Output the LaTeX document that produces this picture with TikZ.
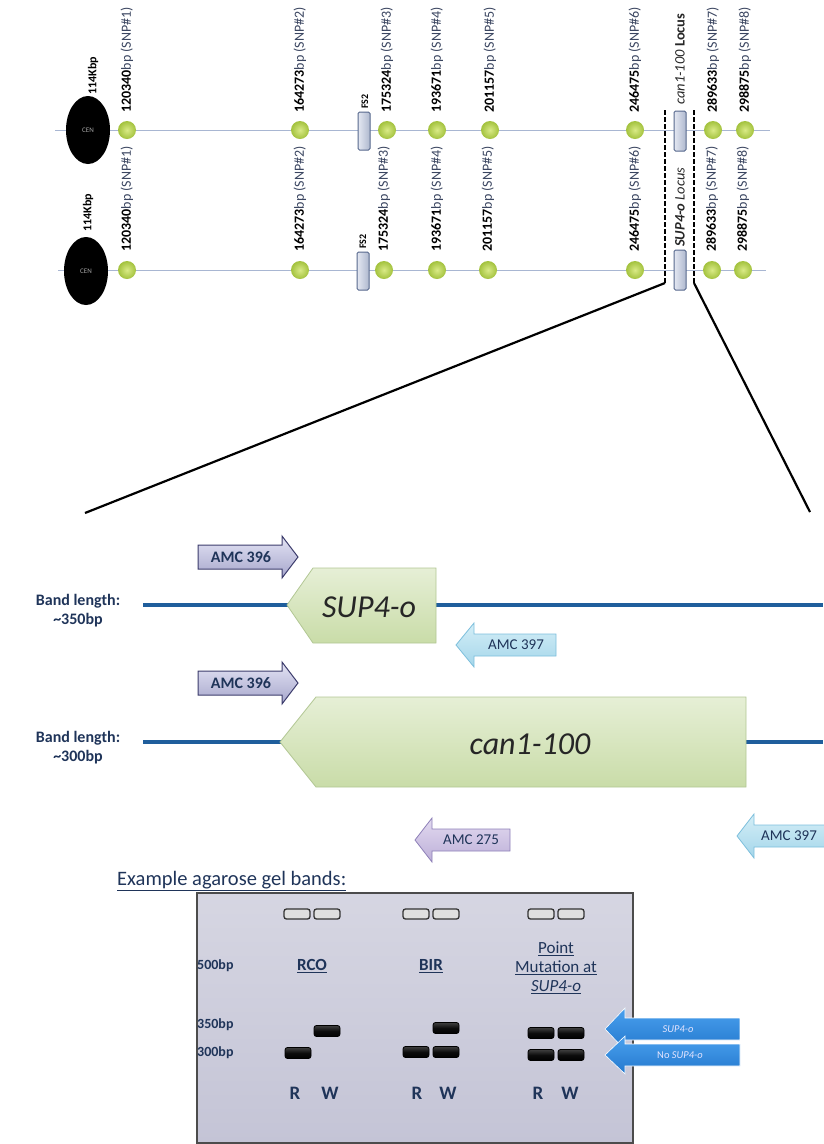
\documentclass[tikz,border=0pt]{standalone}
\usepackage{fontspec}
\setmainfont{Carlito}
\usetikzlibrary{shapes.geometric}
\definecolor{chromln}{HTML}{A8B6D2}
\definecolor{snpl}{HTML}{D9EA86}
\definecolor{snpd}{HTML}{A3C23E}
\definecolor{rectl}{HTML}{E4E8F2}
\definecolor{rectd}{HTML}{AEB8CE}
\definecolor{rectb}{HTML}{56678C}
\definecolor{navy}{HTML}{1F3459}
\definecolor{dnablue}{HTML}{1F5E9C}
\definecolor{genel}{HTML}{E6EFD6}
\definecolor{gened}{HTML}{C9DCA8}
\definecolor{geneb}{HTML}{B2C794}
\definecolor{lavl}{HTML}{E4E4F4}
\definecolor{lavd}{HTML}{A6A6CC}
\definecolor{lavb}{HTML}{3C3C6C}
\definecolor{skyl}{HTML}{D4EEF7}
\definecolor{skyd}{HTML}{A4D6EA}
\definecolor{skyb}{HTML}{7DBFDC}
\definecolor{purl}{HTML}{E2DAF0}
\definecolor{purd}{HTML}{BDAFD8}
\definecolor{purb}{HTML}{8E80B8}
\definecolor{gell}{HTML}{D6D6E2}
\definecolor{geld}{HTML}{C4C4D6}
\definecolor{brtl}{HTML}{4AA0EE}
\definecolor{brtd}{HTML}{2479CE}
\definecolor{lblgray}{HTML}{3A4560}
\newcommand{\fsz}[1]{\fontsize{#1}{#1}\selectfont}
\newcommand{\rarr}[7]{\path[#7] (#1,#4-#5) -- (#2,#4-#5) -- (#2,#4-#6) -- (#3,#4) -- (#2,#4+#6) -- (#2,#4+#5) -- (#1,#4+#5) -- cycle;}
\newcommand{\snplab}[2]{\textbf{\color{black}#1}bp (SNP\##2)}
\begin{document}
\begin{tikzpicture}[x=1pt,y=-1pt,
  chrom/.style={draw=chromln, line width=1pt},
  snp/.style={circle, minimum size=18pt, inner sep=0, inner color=snpl, outer color=snpd},
  cen/.style={ellipse, fill=black, minimum width=44pt, minimum height=68pt, inner sep=0, text=gray!70, font=\fsz{7}},
  locrect/.style={draw=rectb, line width=1pt, rounded corners=1.5pt, left color=rectl, right color=rectd, minimum width=12pt, minimum height=38pt, inner sep=0},
  lab/.style={rotate=90, anchor=west, inner sep=0, font=\fsz{14}, text=lblgray},
  loclab/.style={rotate=90, anchor=west, inner sep=0, font=\fsz{14.5}, text=black!85},
  zoomln/.style={line width=2.2pt, black},
  dashln/.style={line width=2.2pt, black, dash pattern=on 4.5pt off 2.5pt},
  bandlab/.style={align=center, font=\bfseries\fsz{16}, text=navy, inner sep=0},
  dna/.style={draw=dnablue, line width=4pt},
  gene/.style={draw=geneb, line width=0.8pt, top color=genel, bottom color=gened},
  genetxt/.style={font=\itshape\fsz{32}, text=black!85, inner sep=0},
  lavarr/.style={draw=lavb, line width=1pt, top color=lavl, bottom color=lavd},
  skyarr/.style={draw=skyb, line width=0.8pt, top color=skyl, bottom color=skyd},
  purarr/.style={draw=purb, line width=0.8pt, top color=purl, bottom color=purd},
  brtarr/.style={draw=white, line width=0.6pt, top color=brtl, bottom color=brtd},
  amc/.style={font=\bfseries\fsz{16}, text=navy, inner sep=0},
  gellab/.style={font=\bfseries\fsz{14}, text=navy, inner sep=0},
  well/.style={draw=black!80, line width=1.3pt, rounded corners=2.5pt, fill=gray!25, minimum width=26pt, minimum height=10pt, inner sep=0},
  band/.style={draw=black, line width=0.8pt, rounded corners=2.5pt, top color=black!75, bottom color=black, middle color=black!95, minimum width=26pt, minimum height=11pt, inner sep=0},
  rw/.style={font=\bfseries\fsz{19}, text=navy, inner sep=0},
  hdr/.style={font=\bfseries\fsz{17}, text=navy, align=center, inner sep=0}
]
\useasboundingbox (0,0) rectangle (823,1144);

% ---------- chromosome 1 ----------
\draw[chrom] (55,130) -- (770,130);
\node[cen] (cen1) at (88,130) {CEN};
\foreach \i/\x in {1/127,2/300,3/387,4/437,5/490,6/635,7/713,8/745}
  \node[snp] (sa\i) at (\x,130) {};
\node[locrect] (fs2a) at (364,131) {};
\node[locrect, minimum height=40pt] (loca) at (680,131) {};
\node[lab, font=\bfseries\fsz{12}, text=black] (kb1) at (93,95) {114Kbp};
\node[lab] (la1) at (127,113) {\snplab{120340}{1}};
\node[lab] (la2) at (300,113) {\snplab{164273}{2}};
\node[lab, font=\bfseries\fsz{10}, text=black] (fsla) at (365,109) {FS2};
\node[lab] (la3) at (387,113) {\snplab{175324}{3}};
\node[lab] (la4) at (437,113) {\snplab{193671}{4}};
\node[lab] (la5) at (490,113) {\snplab{201157}{5}};
\node[lab] (la6) at (635,113) {\snplab{246475}{6}};
\node[loclab] (lla) at (680,105) {\textit{can1-100} \textbf{Locus}};
\node[lab] (la7) at (713,113) {\snplab{289633}{7}};
\node[lab] (la8) at (745,113) {\snplab{298875}{8}};

% ---------- chromosome 2 ----------
\draw[chrom] (58,270) -- (766,270);
\node[cen] (cen2) at (86,271) {CEN};
\foreach \i/\x in {1/127,2/300,3/384,4/437,5/488,6/635,7/712,8/743}
  \node[snp] (sb\i) at (\x,270) {};
\node[locrect] (fs2b) at (363,271) {};
\node[locrect, minimum height=40pt] (locb) at (680,270) {};
\node[lab, font=\bfseries\fsz{12}, text=black] (kb2) at (88,232) {114Kbp};
\node[lab] (lb1) at (127,252) {\snplab{120340}{1}};
\node[lab] (lb2) at (300,252) {\snplab{164273}{2}};
\node[lab, font=\bfseries\fsz{10}, text=black] (fslb) at (363,249) {FS2};
\node[lab] (lb3) at (384,252) {\snplab{175324}{3}};
\node[lab] (lb4) at (437,252) {\snplab{193671}{4}};
\node[lab] (lb5) at (488,252) {\snplab{201157}{5}};
\node[lab] (lb6) at (635,252) {\snplab{246475}{6}};
\node[loclab] (llb) at (680,247) {\textbf{\textit{SUP4-o}} \textit{Locus}};
\node[lab] (lb7) at (712,252) {\snplab{289633}{7}};
\node[lab] (lb8) at (743,252) {\snplab{298875}{8}};

% ---------- zoom lines ----------
\coordinate (dlt) at (665,110);
\coordinate (dlb) at (665,283);
\coordinate (drt) at (694,110);
\coordinate (drb) at (694,283);
\coordinate (zl) at (85,513);
\coordinate (zr) at (810,512);
\draw[dashln] (dlt) -- (dlb);
\draw[dashln] (drt) -- (drb);
\draw[zoomln] (dlb) -- (zl);
\draw[zoomln] (drb) -- (zr);

% ---------- SUP4-o region ----------
\node[bandlab] (bl1) at (78,611) {Band length:\\[3pt]\textasciitilde350bp};
\coordinate (d1a) at (143,605);
\coordinate (d1b) at (823,605);
\draw[dna] (d1a) -- (d1b);
\path[gene] (287,605) -- (313,568) -- (436,568) -- (436,643) -- (313,643) -- cycle;
\node[genetxt] (sup) at (369,607) {SUP4-o};
\rarr{198}{282}{298}{557}{12}{21}{lavarr}
\node[amc] (a396a) at (241,557) {AMC 396};
\rarr{556}{474}{456}{645}{11}{22}{skyarr}
\node[amc, font=\fsz{15}] (a397a) at (516,645) {AMC 397};

% ---------- can1-100 region ----------
\node[bandlab] (bl2) at (78,748) {Band length:\\[3pt]\textasciitilde300bp};
\coordinate (d2a) at (143,742);
\coordinate (d2b) at (823,742);
\draw[dna] (d2a) -- (d2b);
\path[gene] (280,742) -- (316,697) -- (746,697) -- (746,787) -- (316,787) -- cycle;
\node[genetxt] (can) at (530,744) {can1-100};
\rarr{198}{282}{298}{683}{12}{21}{lavarr}
\node[amc] (a396b) at (241,683) {AMC 396};
\rarr{510}{432}{415}{840}{11}{22}{purarr}
\node[amc, font=\fsz{15}] (a275) at (471,840) {AMC 275};
\rarr{830}{754}{737}{836}{11}{22}{skyarr}
\node[amc, font=\fsz{15}] (a397b) at (789,836) {AMC 397};

% ---------- gel ----------
\node[hdr, font=\fsz{20.5}, anchor=west] (ex) at (117,881) {\underline{Example agarose gel bands:}};
\path[draw=black!70, line width=1.5pt, top color=gell, bottom color=geld] (197,893) rectangle (633,1143);
\foreach \n/\x in {w1/297,w2/327,w3/416,w4/446,w5/541,w6/571}
  \node[well] (\n) at (\x,914) {};
\node[hdr] (rco) at (312,966) {\underline{RCO}};
\node[hdr] (bir) at (431,966) {\underline{BIR}};
\node[hdr, font=\fsz{17}] (pm) at (556,968) {\underline{Point}\\[2pt]\underline{Mutation at}\\[2pt]\underline{\textit{SUP4-o}}};
\node[gellab, anchor=west] (m500) at (197,966) {500bp};
\node[gellab, anchor=west] (m350) at (197,1025) {350bp};
\node[gellab, anchor=west] (m300) at (197,1053) {300bp};
\node[band] (b1) at (298,1053) {};
\node[band] (b2) at (327,1031) {};
\node[band] (b3) at (416,1052) {};
\node[band] (b4) at (446,1052) {};
\node[band] (b5) at (446,1028) {};
\node[band] (b6) at (541,1033) {};
\node[band] (b7) at (541,1055) {};
\node[band] (b8) at (571,1033) {};
\node[band] (b9) at (571,1055) {};
\node[rw] (r1) at (295,1093) {R};
\node[rw] (w1l) at (330,1093) {W};
\node[rw] (r2) at (417,1093) {R};
\node[rw] (w2l) at (448,1093) {W};
\node[rw] (r3) at (538,1093) {R};
\node[rw] (w3l) at (570,1093) {W};

% ---------- blue arrows ----------
\rarr{740}{625}{605}{1029}{11}{21}{brtarr}
\rarr{740}{625}{605}{1055}{11}{19}{brtarr}
\node[font=\itshape\fsz{10.5}, text=white!90!blue, inner sep=0] (asup) at (678,1029) {SUP4-o};
\node[font=\fsz{10.5}, text=white!90!blue, inner sep=0] (anosup) at (680,1055) {No \textit{SUP4-o}};
\end{tikzpicture}
\end{document}
